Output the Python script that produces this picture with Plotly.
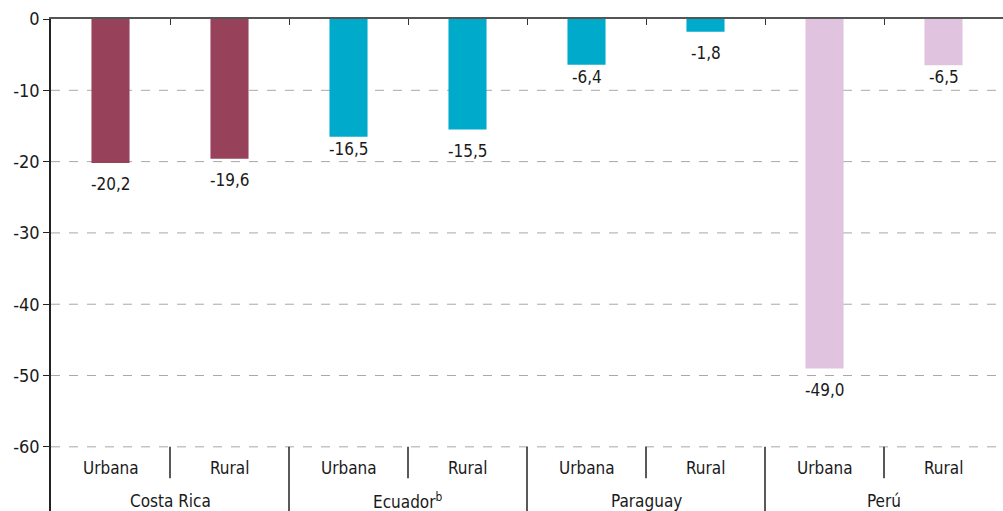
import plotly.graph_objects as go

countries = ["Costa Rica", "Ecuador<sup>b</sup>", "Paraguay", "Perú"]
areas = ["Urbana", "Rural"]
values = [-20.2, -19.6, -16.5, -15.5, -6.4, -1.8, -49.0, -6.5]
value_labels = ["-20,2", "-19,6", "-16,5", "-15,5", "-6,4", "-1,8", "-49,0", "-6,5"]
country_colors = ["#98415a", "#00aacb", "#00aacb", "#e0c4df"]
y_ticks = [0, -10, -20, -30, -40, -50, -60]

FONT = "Liberation Sans Narrow, DejaVu Sans Condensed, Arial Narrow, sans-serif"
Y_MIN = -69

n_areas = len(areas)
positions = [i + 0.5 for i in range(len(values))]
bar_colors = [country_colors[i // n_areas] for i in range(len(values))]

fig = go.Figure()
fig.add_trace(go.Bar(
    x=positions,
    y=values,
    width=0.32,
    marker=dict(color=bar_colors, line=dict(width=0)),
    hoverinfo="skip",
))

shapes = []
annotations = []

# value labels below each bar's end; pulled closer when they would sit on a gridline
far_gap, near_gap, half_height = 3.0, 1.7, 1.3
for xp, v, lab in zip(positions, values, value_labels):
    centre = v - far_gap
    if any(abs(centre - g) < half_height for g in y_ticks[1:]):
        centre = v - near_gap
    annotations.append(dict(x=xp, y=centre, xref="x", yref="y", text=lab, showarrow=False,
                            yanchor="middle",
                            font=dict(family=FONT, size=17, color="#1a1a1a")))

# dashed gridlines below zero
for v in y_ticks[1:]:
    shapes.append(dict(type="line", xref="x", yref="y", x0=0, x1=len(values), y0=v, y1=v,
                       line=dict(color="#a8a8a8", width=1, dash="dash"), layer="below"))

# category labels and dividers under the lowest gridline
base = y_ticks[-1]
for i in range(len(values)):
    annotations.append(dict(x=positions[i], y=base - 3.0, xref="x", yref="y",
                            text=areas[i % n_areas], showarrow=False,
                            font=dict(family=FONT, size=17, color="#1a1a1a")))
for c, name in enumerate(countries):
    annotations.append(dict(x=c * n_areas + n_areas / 2, y=base - 7.6, xref="x", yref="y",
                            text=name, showarrow=False,
                            font=dict(family=FONT, size=17, color="#1a1a1a")))
for b in range(1, len(values)):
    if b % n_areas == 0:
        y_end = Y_MIN
    else:
        y_end = base - 4.4
    shapes.append(dict(type="line", xref="x", yref="y", x0=b, x1=b, y0=base, y1=y_end,
                       line=dict(color="#222", width=1.5)))

fig.update_layout(
    width=1003, height=511,
    margin=dict(l=51, r=0, t=19, b=0),
    paper_bgcolor="white", plot_bgcolor="white",
    showlegend=False,
    shapes=shapes,
    annotations=annotations,
    xaxis=dict(range=[0, len(values)], side="top", showline=True, linecolor="#555", linewidth=2,
               ticks="inside", tickvals=list(range(1, len(values))), ticklen=6, tickcolor="#333",
               showticklabels=False, showgrid=False, zeroline=False, fixedrange=True),
    yaxis=dict(range=[Y_MIN, 0], tickvals=y_ticks, ticktext=[str(v) for v in y_ticks],
               showline=True, linecolor="#222", linewidth=1.5, ticks="outside", ticklen=6,
               tickcolor="#222", showgrid=False, zeroline=False,
               tickfont=dict(family=FONT, size=18, color="#1a1a1a"), fixedrange=True),
)

fig.write_html("out.html")
